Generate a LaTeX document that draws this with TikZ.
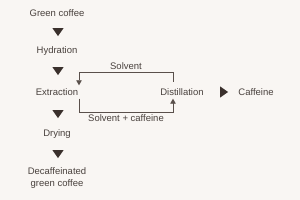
\documentclass[tikz,border=0pt]{standalone}
\usepackage{fontspec}
\setmainfont{Liberation Sans}
\usepackage{xcolor}
\usetikzlibrary{arrows.meta,positioning,shapes.geometric}
\definecolor{paper}{HTML}{F9F6F3}
\definecolor{ink}{HTML}{4A423E}
\definecolor{darkink}{HTML}{3A302C}
\definecolor{wire}{HTML}{5A504B}

\begin{document}
\begin{tikzpicture}[x=1pt,y=-1pt,
  stage/.style={text=ink,font=\fontsize{9.5}{12}\selectfont,align=center,
    inner sep=2pt,minimum height=13pt},
  tri/.style={isosceles triangle,isosceles triangle apex angle=70,fill=darkink,
    inner sep=0pt,minimum height=8pt,minimum width=11pt,shape border rotate=#1},
  looplabel/.style={text=ink,font=\fontsize{9.5}{12}\selectfont,inner sep=2.5pt},
  loopline/.style={draw=wire,line width=0.8pt,-{Triangle[length=5pt,width=5.5pt]}}
]
\fill[paper] (0,0) rectangle (300,200);
\useasboundingbox (0,0) rectangle (300,200);
\node[stage] (green) at (57,13) {Green coffee};
\node[tri=-90] (t1) at (58,31) {};
\node[stage] (hyd) at (57,51) {Hydration};
\node[tri=-90] (t2) at (58,70) {};
\node[stage] (ext) at (57,92) {Extraction};
\node[tri=-90] (t3) at (58,113) {};
\node[stage] (dry) at (57,134) {Drying};
\node[tri=-90] (t4) at (58,153) {};
\node[stage] (decaf) at (57,178) {Decaffeinated\\green coffee};
\node[stage] (dist) at (182,92) {Distillation};
\node[tri=0] (t5) at (223,92) {};
\node[stage] (caf) at (256,92) {Caffeine};
% solvent loop
\coordinate (dtop) at (173,82);
\coordinate (ltop) at (79,72.5);
\coordinate (rtop) at (173,72.5);
\coordinate (lbot) at (79,112);
\coordinate (rbot) at (173,112);
\draw[loopline] (dtop) -- (rtop)
  -- node[looplabel,above] {Solvent} (ltop) -- (ext.north -| ltop);
\draw[loopline] (ext.south -| lbot) -- (lbot)
  -- node[looplabel,below] {Solvent + caffeine} (rbot) -- (dist.south -| rbot);
\end{tikzpicture}
\end{document}
